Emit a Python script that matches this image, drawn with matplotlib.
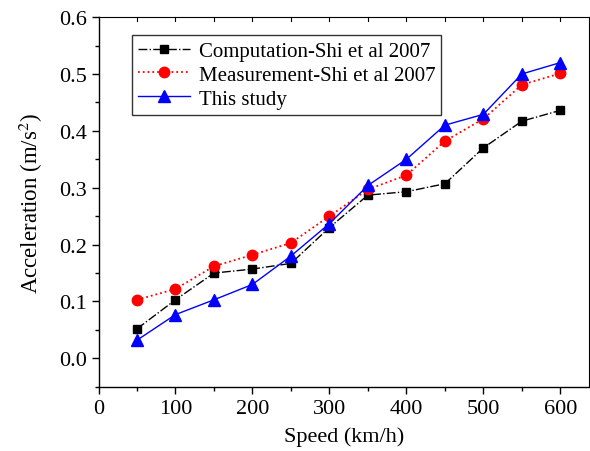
import numpy as np
import matplotlib
matplotlib.use("Agg")
import matplotlib.pyplot as plt
from matplotlib.ticker import MultipleLocator

# data
speed = [50, 100, 150, 200, 250, 300, 350, 400, 450, 500, 550, 600]
computation = [0.052, 0.103, 0.150, 0.157, 0.167, 0.230, 0.287, 0.293, 0.307, 0.370, 0.417, 0.436]
measurement = [0.103, 0.122, 0.162, 0.182, 0.203, 0.250, 0.297, 0.322, 0.382, 0.421, 0.481, 0.501]
this_study = [0.032, 0.077, 0.103, 0.130, 0.180, 0.237, 0.304, 0.350, 0.410, 0.429, 0.500, 0.520]

plt.rcParams['font.family'] = ['Liberation Serif', 'DejaVu Serif']
plt.rcParams['mathtext.fontset'] = 'stix'

fig = plt.figure(figsize=(5.9, 4.52), dpi=100)
ax = fig.add_axes([0.167, 0.142, 0.831, 0.818])

ax.plot(speed, computation, color='black', linestyle='-.', linewidth=1.0,
        marker='s', markersize=6, label='Computation-Shi et al 2007')
ax.plot(speed, measurement, color='red', linestyle=':', linewidth=1.3,
        marker='o', markersize=7.5, label='Measurement-Shi et al 2007')
ax.plot(speed, this_study, color='blue', linestyle='-', linewidth=1.0,
        marker='^', markersize=8, label='This study')

ax.set_xlim(0, 637)
ax.set_ylim(-0.05, 0.6)
ax.xaxis.set_major_locator(MultipleLocator(100))
ax.xaxis.set_minor_locator(MultipleLocator(50))
ax.yaxis.set_major_locator(MultipleLocator(0.1))
ax.yaxis.set_minor_locator(MultipleLocator(0.05))
ax.yaxis.set_major_formatter(matplotlib.ticker.FormatStrFormatter('%.1f'))

ax.tick_params(which='both', direction='out', top=False, right=False, labelsize=16)
ax.tick_params(which='major', length=5, width=1)
ax.tick_params(which='minor', length=3, width=1)
# short inward ticks along the top
for x in np.arange(50, 637, 50):
    ax.plot([x, x], [0.6, 0.593], color='black', linewidth=0.8, clip_on=False)

for s in ax.spines.values():
    s.set_linewidth(1.0)
ax.spines['top'].set_linewidth(0.8)
ax.spines['right'].set_linewidth(0.8)

ax.set_xlabel('Speed (km/h)', fontsize=16, labelpad=6)
ax.set_ylabel('Acceleration (m/s$^2$)', fontsize=16.5, labelpad=10)

leg = ax.legend(loc='upper left', bbox_to_anchor=(0.068, 0.951), fontsize=15,
                frameon=True, fancybox=False, handlelength=2.5,
                borderpad=0.3, labelspacing=0.2, handletextpad=0.4, borderaxespad=0)
leg.get_frame().set_edgecolor('black')
leg.get_frame().set_linewidth(1.0)

fig.savefig('out.png', dpi=100)
